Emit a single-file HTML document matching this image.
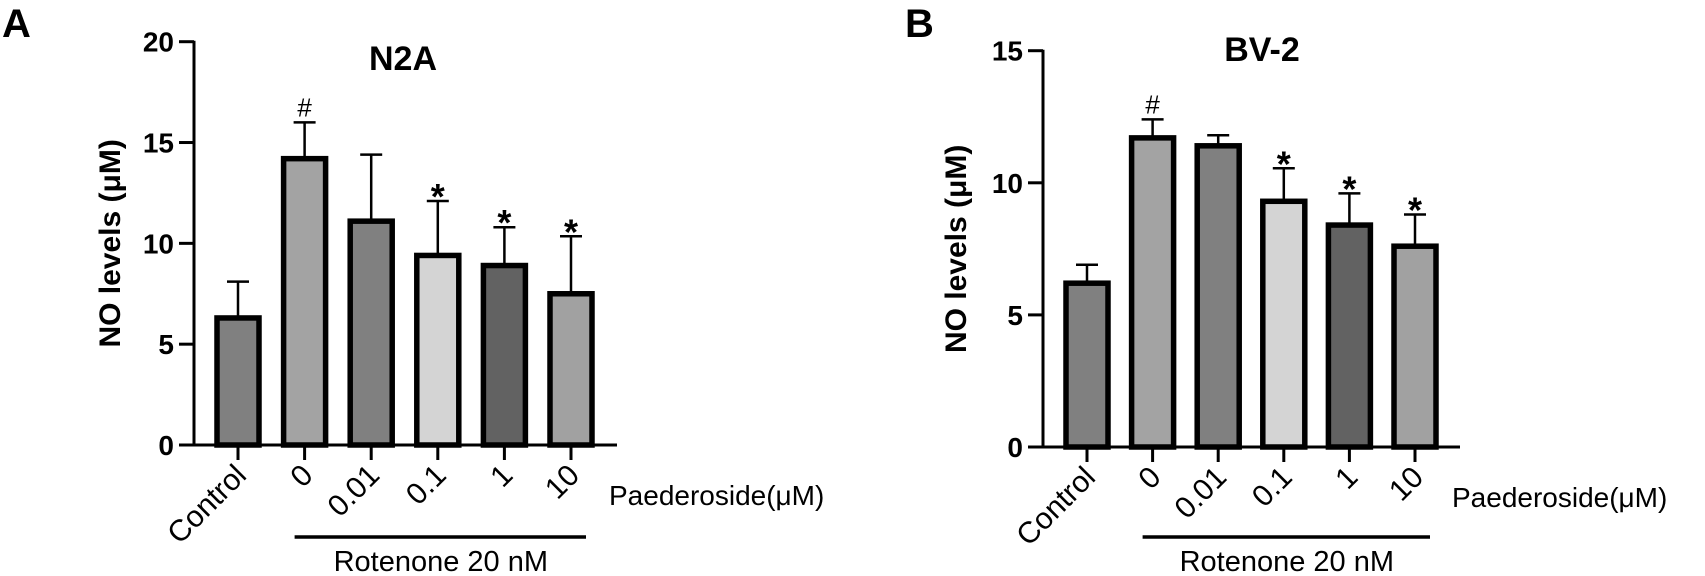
<!DOCTYPE html>
<html><head><meta charset="utf-8"><style>
html,body{margin:0;padding:0;background:#fff}
svg{display:block}
text{font-family:"Liberation Sans",Arial,sans-serif}
</style></head><body>
<svg id="fig" width="1705" height="576" viewBox="0 0 1705 576">
<text x="2" y="37" font-size="40" font-weight="bold">A</text>
<text x="905" y="37" font-size="40" font-weight="bold">B</text>
</svg>
<script>
const categories = ["Control","0","0.01","0.1","1","10"];
const fills = ["#808080","#a3a3a3","#808080","#d4d4d4","#626262","#a1a1a1"];
const n2aValues = [6.3, 14.2, 11.1, 9.4, 8.9, 7.5];
const n2aErrors = [8.1, 16.0, 14.4, 12.1, 10.8, 10.35];
const n2aMarks = ["", "#", "", "*", "*", "*"];
const n2aTicks = [0, 5, 10, 15, 20];
const bv2Values = [6.2, 11.7, 11.4, 9.3, 8.4, 7.6];
const bv2Errors = [6.9, 12.4, 11.8, 10.55, 9.6, 8.8];
const bv2Marks = ["", "#", "", "*", "*", "*"];
const bv2Ticks = [0, 5, 10, 15];

const NS = "http://www.w3.org/2000/svg";
const svg = document.getElementById("fig");
function mk(tag, attrs, parent, txt) {
  const e = document.createElementNS(NS, tag);
  for (const k in attrs) e.setAttribute(k, attrs[k]);
  if (txt !== undefined) e.textContent = txt;
  (parent || svg).appendChild(e);
  return e;
}

function panel(cfg) {
  const g = mk("g", {});
  
  
  const y = v => cfg.y0 - (v / cfg.ymax) * (cfg.y0 - cfg.ytop);
  const x = i => cfg.x0 + i * cfg.step;
  const t = mk("text", {x: cfg.titleX, y: cfg.titleY, "font-size": 34, "font-weight": "bold", "text-anchor": "middle"}, g, cfg.title);
  
  
  const yt = mk("text", {x: 0, y: 0, "font-size": 30, "font-weight": "bold", "text-anchor": "middle", transform: `translate(${cfg.yTitleX},${(cfg.y0 + cfg.ytop) / 2}) rotate(-90)`}, g, "NO levels (μM)");
  
  
  cfg.values.forEach((v, i) => {
    const cx = x(i), w = 42;
    const eb = mk("g", {}, g);
    
    
    mk("line", {x1: cx, x2: cx, y1: y(v), y2: y(cfg.errors[i]), stroke: "#000", "stroke-width": 2.5}, eb);
    mk("line", {x1: cx - 11, x2: cx + 11, y1: y(cfg.errors[i]), y2: y(cfg.errors[i]), stroke: "#000", "stroke-width": 2.5}, eb);
    const r = mk("rect", {x: cx - w / 2, y: y(v), width: w, height: y(0) - y(v), fill: fills[i], stroke: "#000", "stroke-width": 5.5}, g);
    
    
    if (cfg.marks[i]) {
      const star = cfg.marks[i] === "*";
      const m = mk("text", {x: cx, y: y(cfg.errors[i]) + (star ? 8 : -6), "font-size": star ? 36 : 26, "font-weight": star ? "bold" : "normal", "text-anchor": "middle"}, g, cfg.marks[i]);
      
      
    }
    mk("line", {x1: cx, x2: cx, y1: y(0), y2: y(0) + 15, stroke: "#000", "stroke-width": 3}, g);
    const lab = mk("text", {x: 0, y: 0, "font-size": 30, "text-anchor": "end", transform: `translate(${cx + 10},${y(0) + 32}) rotate(-45)`}, g, categories[i]);
    
    
  });
  const ax = mk("g", {}, g);
  
  
  mk("line", {x1: cfg.axisX, x2: cfg.axisX, y1: cfg.ytop - 1, y2: y(0) + 1.5, stroke: "#000", "stroke-width": 3}, ax);
  mk("line", {x1: cfg.axisX - 15, x2: cfg.xEnd, y1: y(0), y2: y(0), stroke: "#000", "stroke-width": 3}, ax);
  cfg.ticks.forEach(tv => {
    mk("line", {x1: cfg.axisX - 15, x2: cfg.axisX, y1: y(tv), y2: y(tv), stroke: "#000", "stroke-width": 3}, ax);
    const tl = mk("text", {x: cfg.axisX - 20, y: y(tv) + 10, "font-size": 28, "font-weight": "bold", "text-anchor": "end"}, ax, String(tv));
    
    
  });
  const pl = mk("text", {x: cfg.xEnd - 8, y: y(0) + 60, "font-size": 28}, g, "Paederoside(μM)");
  
  
  mk("line", {x1: x(1) - 10, x2: x(5) + 15, y1: 537, y2: 537, stroke: "#000", "stroke-width": 3.5}, g);
  const rl = mk("text", {x: (x(1) + x(5)) / 2 + 3, y: 571, "font-size": 29, "text-anchor": "middle"}, g, "Rotenone 20 nM");
  
  
}

panel({name: "chart-n2a", title: "N2A", titleX: 403, titleY: 70, yTitleX: 120,
  values: n2aValues, errors: n2aErrors, marks: n2aMarks, ticks: n2aTicks,
  ymax: 20, y0: 445, ytop: 41.7, x0: 238, step: 66.6, axisX: 194, xEnd: 617});
panel({name: "chart-bv2", title: "BV-2", titleX: 1262, titleY: 61, yTitleX: 966,
  values: bv2Values, errors: bv2Errors, marks: bv2Marks, ticks: bv2Ticks,
  ymax: 15, y0: 447, ytop: 50.7, x0: 1087, step: 65.6, axisX: 1043, xEnd: 1460});
</script>
</body></html>
